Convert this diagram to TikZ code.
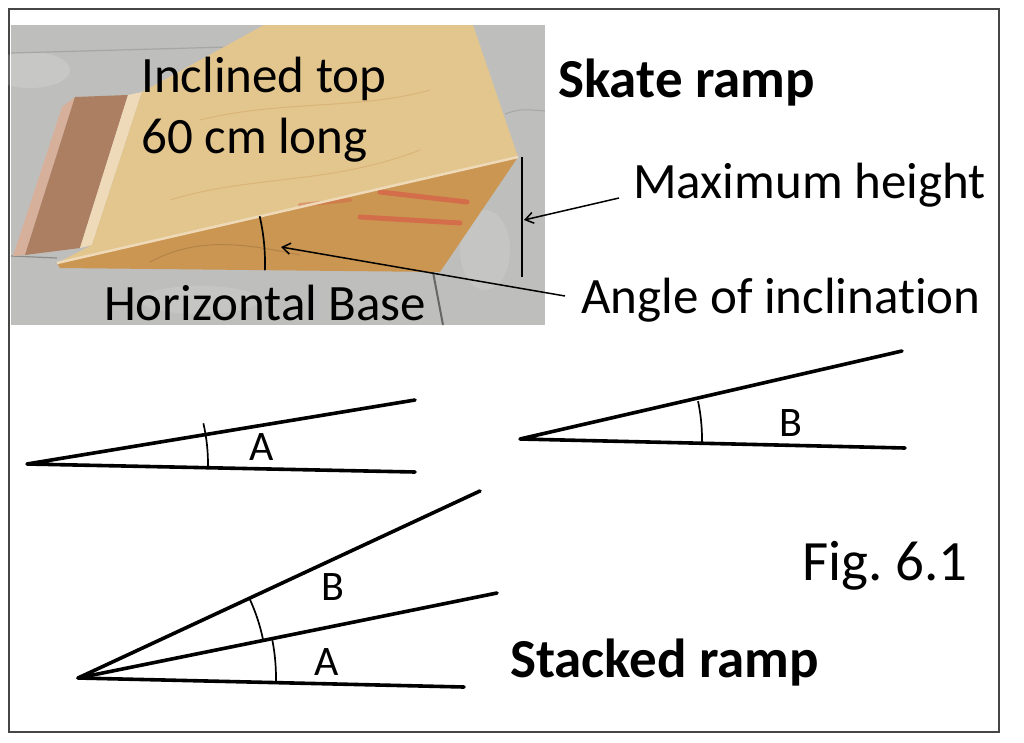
\documentclass[tikz,border=0pt]{standalone}
\usepackage{fontspec}
\setmainfont{Carlito}[Ligatures=NoCommon]
\usetikzlibrary{arrows.meta}
\definecolor{ground}{RGB}{190,190,188}
\definecolor{plytop}{RGB}{227,198,142}
\definecolor{plyside}{RGB}{203,150,82}
\definecolor{plyedge}{RGB}{238,218,184}
\definecolor{board}{RGB}{172,126,98}
\definecolor{boardrim}{RGB}{214,176,154}
\definecolor{stain}{RGB}{214,96,72}
\definecolor{framegray}{RGB}{70,70,70}

\begin{document}
\begin{tikzpicture}[x=1pt,y=-1pt,
  lbl/.style={inner sep=0pt,font=\fontsize{51}{60}\selectfont},
  ttl/.style={inner sep=0pt,font=\fontsize{55}{64}\selectfont\bfseries},
  anglbl/.style={inner sep=0pt,font=\fontsize{42}{50}\selectfont},
  ray/.style={line width=3.6pt,line cap=round,line join=round},
  arcline/.style={line width=1.7pt},
  pointer/.style={line width=1.5pt,-{Straight Barb[length=8pt,width=11pt]}}]

\useasboundingbox (0,0) rectangle (1024,742);
\draw[framegray,line width=2.5pt] (9,9) rectangle (999,732);

% photo of the skate ramp
\fill[ground] (11,25) rectangle (545,325);
\fill[white,opacity=.15] (30,70) ellipse[x radius=40,y radius=18];
\fill[white,opacity=.12] (485,250) ellipse[x radius=25,y radius=40];
\fill[white,opacity=.12] (200,300) ellipse[x radius=60,y radius=14];
\draw[black!35,line width=1.2pt] (11,53) -- (264,46);
\draw[black!45,line width=1.2pt] (11,256) -- (57,258);
\draw[black!35,line width=1pt] (505,114) .. controls (520,109) .. (545,111);
\draw[black!60,line width=2pt] (433,272) -- (443,325);
\fill[boardrim] (62,107) -- (75,97) -- (25,255) -- (13,256) -- cycle;
\fill[board] (75,97) -- (128,95) -- (80,248) -- (25,255) -- cycle;
\fill[plyedge] (128,95) -- (142,92) -- (92,245) -- (80,248) -- cycle;
\fill[plytop] (264,25) -- (473,25) -- (518,157) -- (57,263) -- (92,245) -- (142,92) -- cycle;
\fill[plyside] (57,263) -- (518,157) -- (440,272) -- (60,268) -- cycle;
\draw[plyside!60!plytop,line width=1pt,opacity=.6] (200,120) .. controls (280,100) and (360,110) .. (430,90);
\draw[plyside!60!plytop,line width=1pt,opacity=.6] (170,200) .. controls (250,175) and (330,185) .. (420,150);
\draw[plyside!60!black,line width=1pt,opacity=.3] (150,262) .. controls (200,235) and (250,245) .. (300,255);
\draw[stain,line width=5pt,opacity=.75,line cap=round] (380,192) -- (467,202);
\draw[stain,line width=5pt,opacity=.75,line cap=round] (360,217) -- (460,223);
\draw[stain,line width=4pt,opacity=.45,line cap=round] (300,205) -- (350,200);
\draw[plyedge,line width=2.5pt] (57,263) -- (518,157);

% marks on the photo
\coordinate (rampA) at (57,263);
\coordinate (hTop) at (522,157);
\coordinate (hBot) at (522,277);
\coordinate (hMid) at (524,220);
\coordinate (angPt) at (281,247);
\draw[line width=2pt] (hTop) -- (hBot);
\draw[arcline] ([shift={(2:208)}]rampA) arc[start angle=2,end angle=-13,radius=208];

\node[lbl,anchor=base west] (incl) at (141,92) {Inclined top};
\node[lbl,anchor=base west] (len) at (141,153) {60 cm long};
\node[lbl,anchor=base west] (base) at (104,320) {Horizontal Base};
\node[ttl,anchor=base west] (skate) at (558,97) {Skate ramp};
\node[lbl,anchor=base west] (maxh) at (633,198) {Maximum height};
\node[lbl,anchor=base west] (angin) at (581,313) {Angle of inclination};
\draw[pointer] ([xshift=-14pt]maxh.base west) -- (hMid);
\draw[pointer] ([shift={(-16pt,17pt)}]angin.base west) -- (angPt);

% angle A
\coordinate (vA) at (27,464);
\coordinate (aUp) at (415,400);
\coordinate (aLow) at (415,472);
\draw[ray] (aUp) -- (vA) -- (aLow);
\draw[arcline] ([shift={(1:181)}]vA) arc[start angle=1,end angle=-13,radius=181];
\node[anglbl] (labA) at (262,447) {A};

% angle B
\coordinate (vB) at (520,439);
\coordinate (bUp) at (902,351);
\coordinate (bLow) at (905,448);
\draw[ray] (bUp) -- (vB) -- (bLow);
\draw[arcline] ([shift={(1.5:182)}]vB) arc[start angle=1.5,end angle=-12,radius=182];
\node[anglbl] (labB) at (791,423) {B};

% stacked ramp
\coordinate (vS) at (78,678);
\coordinate (sTop) at (480,491);
\coordinate (sMid) at (497,593);
\coordinate (sLow) at (464,687);
\draw[ray] (sTop) -- (vS) -- (sLow);
\draw[ray] (vS) -- (sMid);
\draw[arcline] ([shift={(-11.5:189)}]vS) arc[start angle=-11.5,end angle=-25,radius=189];
\draw[arcline] ([shift={(1.5:198)}]vS) arc[start angle=1.5,end angle=-11,radius=198];
\node[anglbl] (labSB) at (333,587) {B};
\node[anglbl] (labSA) at (327,662) {A};

\node[inner sep=0pt,font=\fontsize{57}{66}\selectfont,anchor=base west] (fig) at (802,580) {Fig.\ 6.1};
\node[ttl,anchor=base west] (stack) at (510,677) {Stacked ramp};
\end{tikzpicture}
\end{document}
